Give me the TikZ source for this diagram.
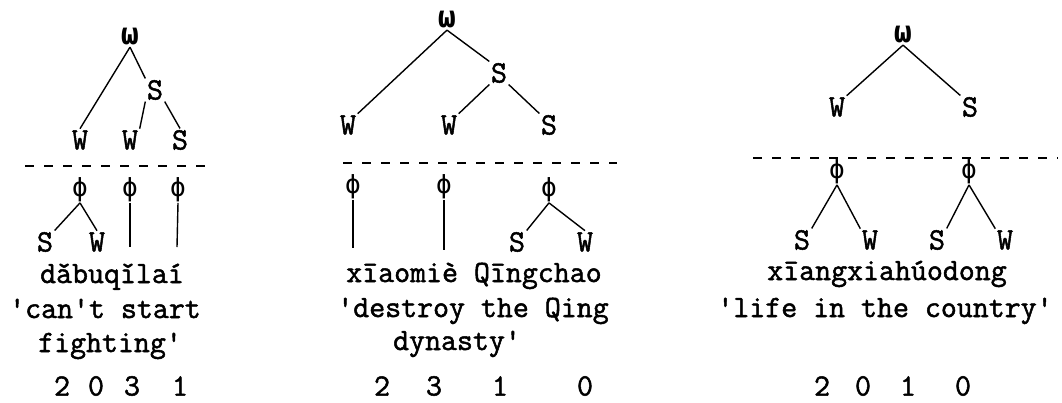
\documentclass[tikz,border=0pt]{standalone}
\usepackage{fontspec}
\setmonofont{Latin Modern Mono}[AutoFakeBold=1.6]
\newfontfamily\grk{DejaVu Sans Mono}
\usetikzlibrary{positioning}

\begin{document}
\begin{tikzpicture}[x=1pt,y=-1pt,font=\ttfamily\bfseries\fontsize{31}{36}\selectfont,line width=1.4pt]
  \tikzstyle{lbl}=[inner sep=1pt]
  \tikzstyle{rt}=[inner sep=1pt,font=\grk\bfseries\fontsize{30}{34}\selectfont]
  \tikzstyle{ph}=[inner sep=0pt,font=\grk\fontsize{26}{30}\selectfont]
  \tikzstyle{txt}=[anchor=base,inner sep=0pt]
  \tikzstyle{num}=[inner sep=0pt]
  \tikzstyle{tier}=[dash pattern=on 9pt off 10pt]
  \useasboundingbox (0,0) rectangle (1062,402);

  % first tree
  \node[rt] (om1) at (130,37) {ω};
  \node[lbl] (s1) at (155,90) {S};
  \node[lbl] (w1a) at (80,140) {W};
  \node[lbl] (w1b) at (130,140) {W};
  \node[lbl] (s1b) at (180,140) {S};
  \draw (om1.south) -- (w1a.north);
  \draw (om1.south) -- (s1.north west);
  \draw (s1.south west) -- (w1b.north east);
  \draw (s1.south east) -- (s1b.north);
  \coordinate (d1a) at (25,166); \coordinate (d1b) at (212,166);
  \draw[tier] (d1a) -- (d1b);
  \node[ph] (p1a) at (80,190) {ϕ};
  \node[ph] (p1b) at (130,190) {ϕ};
  \node[ph] (p1c) at (178,190) {ϕ};
  \node[lbl] (s1c) at (45,242) {S};
  \node[lbl] (w1c) at (97,242) {W};
  \draw (p1a.south) -- (s1c.north east);
  \draw (p1a.south) -- (w1c.north);
  \coordinate (e1b) at (130,247); \coordinate (e1c) at (177,247);
  \draw (p1b.south) -- (e1b);
  \draw (p1c.south) -- (e1c);
  \node[txt] (wd1) at (112,283) {d\v{a}buq\v{\i}la\'{\i}};
  \node[txt] (gl1a) at (105,318) {\textquotesingle can\textquotesingle t start};
  \node[txt] (gl1b) at (110,352) {fighting\textquotesingle};
  \foreach \x/\d [count=\i] in {62/2,96/0,132/3,180/1}
    \node[num] (n1\i) at (\x,386) {\d};

  % second tree
  \node[rt] (om2) at (447,20) {ω};
  \node[lbl] (s2) at (499,73) {S};
  \node[lbl] (w2a) at (348,125) {W};
  \node[lbl] (w2b) at (449,125) {W};
  \node[lbl] (s2b) at (549,125) {S};
  \draw (om2.south) -- (w2a.north east);
  \draw (om2.south) -- (s2.north west);
  \draw (s2.south west) -- (w2b.north east);
  \draw (s2.south east) -- (s2b.north west);
  \coordinate (d2a) at (343,163); \coordinate (d2b) at (617,163);
  \draw[tier] (d2a) -- (d2b);
  \node[ph] (p2a) at (353,187) {ϕ};
  \node[ph] (p2b) at (444,187) {ϕ};
  \node[ph] (p2c) at (549,190) {ϕ};
  \node[lbl] (s2c) at (517,242) {S};
  \node[lbl] (w2c) at (585,242) {W};
  \draw (p2c.south) -- (s2c.north east);
  \draw (p2c.south) -- (w2c.north);
  \coordinate (e2a) at (353,248); \coordinate (e2b) at (444,250);
  \draw (p2a.south) -- (e2a);
  \draw (p2b.south) -- (e2b);
  \node[txt] (wd2) at (474,282) {x\={\i}aomi\`{e} Q\={\i}ngchao};
  \node[txt] (gl2a) at (473,317) {\textquotesingle destroy the Qing};
  \node[txt] (gl2b) at (457,350) {dynasty\textquotesingle};
  \foreach \x/\d [count=\i] in {382/2,434/3,500/1,585/0}
    \node[num] (n2\i) at (\x,386) {\d};

  % third tree
  \node[rt] (om3) at (903,35) {ω};
  \node[lbl] (w3a) at (837,107) {W};
  \node[lbl] (s3a) at (970,107) {S};
  \draw (om3.south) -- (w3a.north east);
  \draw (om3.south) -- (s3a.north west);
  \coordinate (d3a) at (753,158); \coordinate (d3b) at (1058,158);
  \draw[tier] (d3a) -- (d3b);
  \node[ph] (p3a) at (837,172) {ϕ};
  \node[ph] (p3b) at (969,172) {ϕ};
  \node[lbl] (s3b) at (802,240) {S};
  \node[lbl] (w3b) at (870,240) {W};
  \node[lbl] (s3c) at (937,240) {S};
  \node[lbl] (w3c) at (1005,240) {W};
  \draw (p3a.south) -- (s3b.north east);
  \draw (p3a.south) -- (w3b.north west);
  \draw (p3b.south) -- (s3c.north east);
  \draw (p3b.south) -- (w3c.north west);
  \node[txt] (wd3) at (887,280) {x\={\i}angxiah\'{u}odong};
  \node[txt] (gl3) at (885,317) {\textquotesingle life in the country\textquotesingle};
  \foreach \x/\d [count=\i] in {822/2,863/0,908/1,963/0}
    \node[num] (n3\i) at (\x,386) {\d};
\end{tikzpicture}
\end{document}
